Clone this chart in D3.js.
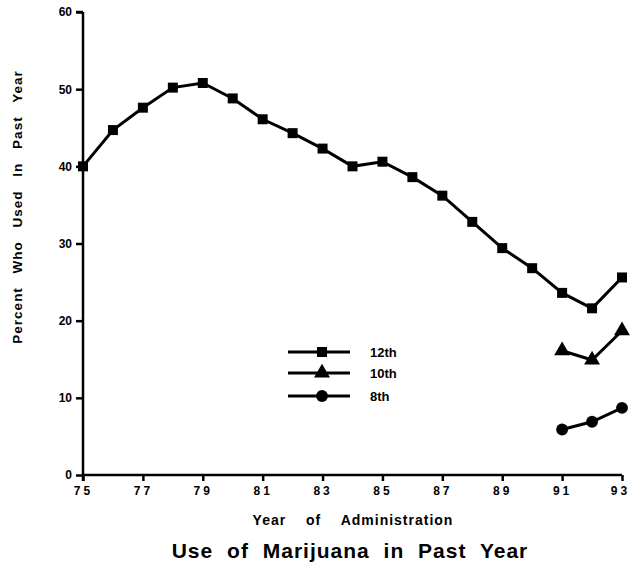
<!DOCTYPE html>
<html>
<head>
<meta charset="utf-8">
<script src="https://cdn.jsdelivr.net/npm/d3@7"></script>
<style>
  body { margin: 0; background: #fff; }
  svg text { font-family: "Liberation Sans", Arial, sans-serif; font-weight: bold; fill: #000; }
</style>
</head>
<body>
<div class="chart"></div>
<script>
// Data
var years12 = [75, 76, 77, 78, 79, 80, 81, 82, 83, 84, 85, 86, 87, 88, 89, 90, 91, 92, 93];
var grade12 = [40.0, 44.7, 47.6, 50.2, 50.8, 48.8, 46.1, 44.3, 42.3, 40.0, 40.6, 38.6, 36.2, 32.8, 29.4, 26.8, 23.6, 21.6, 25.6];
var yearsLate = [91, 92, 93];
var grade10 = [16.1, 14.9, 18.7];
var grade8 = [5.9, 6.9, 8.7];
var xTicks = [75, 77, 79, 81, 83, 85, 87, 89, 91, 93];
var yTicks = [0, 10, 20, 30, 40, 50, 60];
var seriesNames = ["12th", "10th", "8th"];
var markers = [d3.symbolSquare, d3.symbolTriangle, d3.symbolCircle];

var svgWidth = 631, svgHeight = 569;
var margin = { top: 12, right: 9, bottom: 94, left: 83 };
var width = svgWidth - margin.left - margin.right;
var height = svgHeight - margin.top - margin.bottom;

var svg = d3.select(".chart")
  .append("svg")
  .attr("width", svgWidth)
  .attr("height", svgHeight);

var chartGroup = svg.append("g")
  .attr("transform", `translate(${margin.left}, ${margin.top})`);

var xScale = d3.scaleLinear().domain([75, 93]).range([0, width]);
var yScale = d3.scaleLinear().domain([0, 60]).range([height, 0]);

// Axes
var bottomAxis = d3.axisBottom(xScale).tickValues(xTicks).tickSize(6).tickPadding(5).tickFormat(d => d);
var leftAxis = d3.axisLeft(yScale).tickValues(yTicks).tickSize(7).tickPadding(4).tickFormat(d => d);

var gx = chartGroup.append("g")
  .attr("transform", `translate(0, ${height})`)
  .call(bottomAxis);
var gy = chartGroup.append("g").call(leftAxis);

[gx, gy].forEach(g => {
  g.select(".domain").remove();
  g.selectAll(".tick line").attr("stroke", "#000").attr("stroke-width", 2.5);
  g.selectAll(".tick text").style("font-size", "12px").attr("fill", "#000");
});
gx.selectAll(".tick text").style("letter-spacing", "3px");
// keep the last label inside the frame
gx.selectAll(".tick text").filter(d => d === 93).attr("dx", "-2px");

// axis lines
chartGroup.append("line")
  .attr("x1", 0).attr("x2", 0).attr("y1", 0).attr("y2", height + 6)
  .attr("stroke", "#000").attr("stroke-width", 2.5);
chartGroup.append("line")
  .attr("x1", -7).attr("x2", 0).attr("y1", 0).attr("y2", 0)
  .attr("stroke", "#000").attr("stroke-width", 2.5);
chartGroup.append("line")
  .attr("x1", 0).attr("x2", width).attr("y1", height).attr("y2", height)
  .attr("stroke", "#000").attr("stroke-width", 2.5);

// Axis labels
svg.append("text")
  .attr("transform", "translate(22, 207) rotate(-90)")
  .attr("text-anchor", "middle")
  .style("font-size", "13.5px")
  .style("letter-spacing", "1px")
  .style("word-spacing", "9px")
  .text("Percent Who Used In Past Year");
svg.append("text")
  .attr("x", 353)
  .attr("y", 525)
  .attr("text-anchor", "middle")
  .style("font-size", "14px")
  .style("letter-spacing", "1px")
  .style("word-spacing", "15px")
  .text("Year of Administration");
svg.append("text")
  .attr("x", 350)
  .attr("y", 558)
  .attr("text-anchor", "middle")
  .style("font-size", "21px")
  .style("letter-spacing", "1px")
  .style("word-spacing", "7px")
  .text("Use of Marijuana in Past Year");

// Lines and markers
var line = d3.line()
  .x(d => xScale(d[0]))
  .y(d => yScale(d[1]));

var series = [
  d3.zip(years12, grade12),
  d3.zip(yearsLate, grade10),
  d3.zip(yearsLate, grade8)
];
var markerSize = [100, 110, 110];

series.forEach((s, i) => {
  chartGroup.append("path")
    .datum(s)
    .attr("d", line)
    .attr("fill", "none")
    .attr("stroke", "#000")
    .attr("stroke-width", 3);
  chartGroup.selectAll(".pt" + i)
    .data(s)
    .enter()
    .append("path")
    .attr("class", "pt" + i)
    .attr("d", d3.symbol().type(markers[i]).size(markerSize[i]))
    .attr("transform", d => `translate(${xScale(d[0])}, ${yScale(d[1])})`)
    .attr("fill", "#000");
});

// Legend
var legendY = [352, 373, 396];
var legend = svg.append("g");
seriesNames.forEach((name, i) => {
  legend.append("line")
    .attr("x1", 288).attr("x2", 350)
    .attr("y1", legendY[i]).attr("y2", legendY[i])
    .attr("stroke", "#000").attr("stroke-width", 3);
  legend.append("path")
    .attr("d", d3.symbol().type(markers[i]).size(markerSize[i]))
    .attr("transform", `translate(322, ${legendY[i]})`)
    .attr("fill", "#000");
  legend.append("text")
    .attr("x", 370)
    .attr("y", legendY[i] + 5)
    .style("font-size", "13px")
    .text(name);
});
</script>
</body>
</html>
